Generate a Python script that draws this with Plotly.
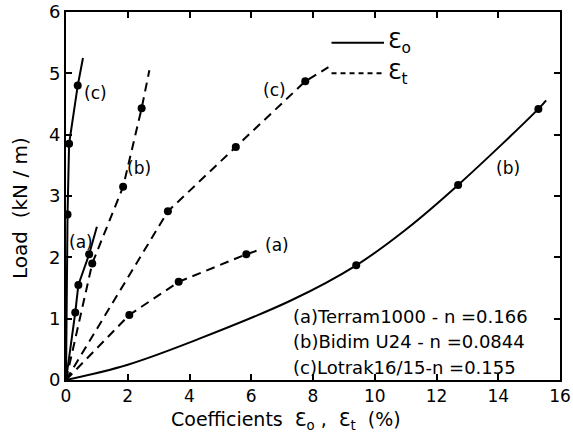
import plotly.graph_objects as go

# Solid lines: coefficient eps_o ; dashed lines: eps_t
a_o_x = [0, 0.2, 0.3, 0.4, 0.75, 1.0]
a_o_y = [0, 0.7, 1.1, 1.55, 2.05, 2.5]
a_o_mx = [0.3, 0.4, 0.75]
a_o_my = [1.1, 1.55, 2.05]

b_o_x = [0, 2.0, 4.3, 7.3, 9.4, 11.0, 12.7, 15.3, 15.55]
b_o_y = [0, 0.25, 0.67, 1.3, 1.87, 2.45, 3.18, 4.42, 4.56]
b_o_mx = [9.4, 12.7, 15.3]
b_o_my = [1.87, 3.18, 4.42]

c_o_x = [0, 0.05, 0.1, 0.38, 0.55]
c_o_y = [0, 2.7, 3.85, 4.8, 5.25]
c_o_mx = [0.05, 0.1, 0.38]
c_o_my = [2.7, 3.85, 4.8]

a_t_x = [0, 2.05, 3.65, 5.84, 6.25]
a_t_y = [0, 1.06, 1.6, 2.05, 2.12]
a_t_mx = [2.05, 3.65, 5.84]
a_t_my = [1.06, 1.6, 2.05]

b_t_x = [0, 0.85, 1.85, 2.45, 2.7]
b_t_y = [0, 1.9, 3.15, 4.43, 5.05]
b_t_mx = [0.85, 1.85, 2.45]
b_t_my = [1.9, 3.15, 4.43]

c_t_x = [0, 3.3, 5.5, 7.75, 8.5]
c_t_y = [0, 2.75, 3.8, 4.87, 5.1]
c_t_mx = [3.3, 5.5, 7.75]
c_t_my = [2.75, 3.8, 4.87]

x_ticks = [0, 2, 4, 6, 8, 10, 12, 14, 16]
y_ticks = [0, 1, 2, 3, 4, 5, 6]

notes = ["(a)Terram1000 - n =0.166", "(b)Bidim U24 - n =0.0844", "(c)Lotrak16/15-n =0.155"]

FONT = "DejaVu Sans"
fig = go.Figure()

def line(x, y, dash, shape="linear"):
    fig.add_trace(go.Scatter(x=x, y=y, mode="lines",
                             line=dict(color="black", width=2, dash=dash, shape=shape),
                             showlegend=False, hoverinfo="skip"))

def marks(x, y):
    fig.add_trace(go.Scatter(x=x, y=y, mode="markers",
                             marker=dict(color="black", size=8),
                             showlegend=False, hoverinfo="skip"))

line(a_o_x, a_o_y, "solid"); marks(a_o_mx, a_o_my)
line(b_o_x, b_o_y, "solid", "spline"); marks(b_o_mx, b_o_my)
line(c_o_x, c_o_y, "solid"); marks(c_o_mx, c_o_my)
line(a_t_x, a_t_y, "9px,6px"); marks(a_t_mx, a_t_my)
line(b_t_x, b_t_y, "9px,6px"); marks(b_t_mx, b_t_my)
line(c_t_x, c_t_y, "9px,6px"); marks(c_t_mx, c_t_my)

# legend key lines
fig.add_trace(go.Scatter(x=[8.6, 10.3], y=[5.5, 5.5], mode="lines",
                         line=dict(color="black", width=2), showlegend=False, hoverinfo="skip"))
fig.add_trace(go.Scatter(x=[8.6, 10.3], y=[5.0, 5.0], mode="lines",
                         line=dict(color="black", width=2, dash="5px,4px"), showlegend=False, hoverinfo="skip"))

def txt(x, y, s, size=17, xanchor="center", xref="x", yref="y", angle=0):
    fig.add_annotation(x=x, y=y, text=s, showarrow=False, xanchor=xanchor, yanchor="middle",
                       xref=xref, yref=yref, textangle=angle,
                       font=dict(family=FONT, size=size, color="black"))

txt(10.35, 5.5, "Ɛ<sub>o</sub>", 22, "left")
txt(10.35, 5.0, "Ɛ<sub>t</sub>", 22, "left")

txt(0.95, 4.68, "(c)")
txt(2.35, 3.46, "(b)")
txt(0.5, 2.25, "(a)")
txt(6.75, 4.73, "(c)")
txt(6.85, 2.2, "(a)")
txt(14.3, 3.45, "(b)")

for i, s in enumerate(notes):
    txt(7.3, 1.03 - 0.41 * i, s, 18, "left")

# axis titles (paper coords are relative to the plot area: x 66..560, y 12..380)
txt((286 - 66) / 494, (380 - 421) / 368, "Coefficients  Ɛ<sub>o</sub> ,  Ɛ<sub>t</sub>  (%)", 19,
    "center", "paper", "paper")
txt((20 - 66) / 494, (380 - 208) / 368, "Load  (kN / m)", 20, "center", "paper", "paper", -90)

fig.update_layout(
    width=573, height=440, autosize=False,
    margin=dict(l=66, r=13, t=12, b=60, autoexpand=False),
    paper_bgcolor="white", plot_bgcolor="white",
    font=dict(family=FONT, size=18, color="black"),
    xaxis=dict(range=[0, 16], tickvals=x_ticks, ticktext=[str(v) for v in x_ticks],
               showgrid=False, zeroline=False, showline=True, linecolor="black", linewidth=2,
               mirror="ticks", ticks="inside", ticklen=6, tickwidth=2, tickcolor="black",
               automargin=False, tickfont=dict(size=17)),
    yaxis=dict(range=[0, 6], tickvals=y_ticks, ticktext=[str(v) for v in y_ticks],
               showgrid=False, zeroline=False, showline=True, linecolor="black", linewidth=2,
               mirror="ticks", ticks="inside", ticklen=6, tickwidth=2, tickcolor="black",
               automargin=False),
)

fig.write_html("out.html")
